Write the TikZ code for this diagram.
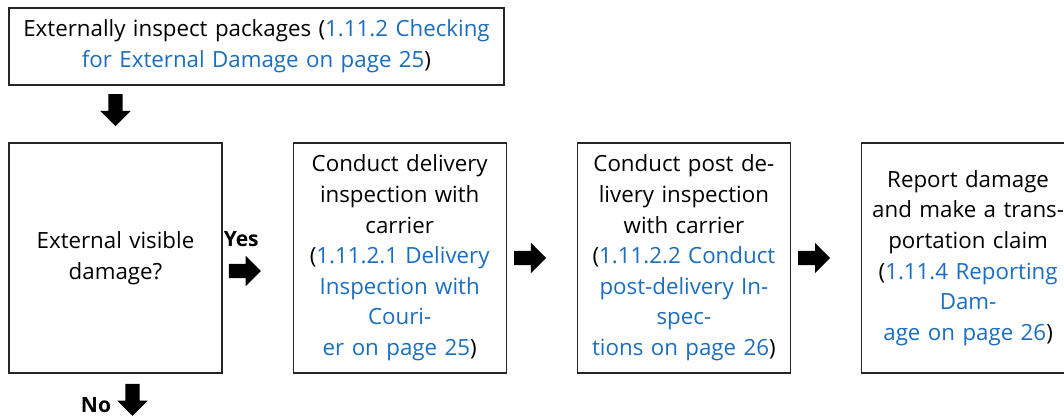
\documentclass[tikz,border=0pt]{standalone}
\usepackage{fontspec}
\setmainfont{Open Sans}
\usetikzlibrary{positioning, shapes.arrows}
\definecolor{xref}{HTML}{1A6DC0}
\newcommand{\xr}[1]{\textcolor{xref}{#1}}

\begin{document}
\begin{tikzpicture}[x=1pt, y=-1pt,
    stepbox/.style={draw=black!85, line width=1.2pt, minimum width=213pt,
        minimum height=230pt, text width=208pt, inner sep=0pt, align=center,
        font=\fontsize{22.3}{30.6}\selectfont},
    fatarrow/.style={single arrow, fill=black, draw=none, inner xsep=0pt,
        inner ysep=7pt, single arrow head extend=8pt, minimum height=32pt},
    answer/.style={font=\fontsize{21}{24}\selectfont\bfseries, inner sep=0pt}]

\useasboundingbox (0,0) rectangle (1064,416);

% steps
\node[stepbox, minimum width=495pt, minimum height=77pt, text width=485pt]
    (inspect) at (256.5,46.5)
    {Externally inspect packages (\xr{1.11.2 Checking}\\\xr{for External Damage on page 25})};
\node[stepbox] (visible) at (115.5,258) {External visible\\damage?};
\node[stepbox, right=70pt of visible] (delivery)
    {Conduct delivery\\inspection with\\carrier\\(\xr{1.11.2.1 Delivery}\\\xr{Inspection with}\\\xr{Couri-}\\\xr{er on page 25})};
\node[stepbox, right=70pt of delivery] (postdel)
    {Conduct post de-\\livery inspection\\with carrier\\(\xr{1.11.2.2 Conduct}\\\xr{post-delivery In-}\\\xr{spec-}\\\xr{tions on page 26})};
\node[stepbox, right=70pt of postdel] (report)
    {Report damage\\and make a trans-\\portation claim\\(\xr{1.11.4 Reporting}\\\xr{Dam-}\\\xr{age on page 26})};

% arrows
\node[fatarrow, rotate=-90, anchor=east] (adown) at ([yshift=16pt]visible.north) {};
\node[fatarrow, right=6pt of visible, yshift=-13pt] (ayes) {};
\node[answer, above=17pt of ayes] (yes) {Yes};
\node[fatarrow, right=7pt of delivery] (apost) {};
\node[fatarrow, right=7pt of postdel] (areport) {};
\node[fatarrow, rotate=-90, anchor=west] (ano) at ([xshift=17pt, yshift=-10pt]visible.south) {};
\node[answer] (no) at (96,405) {No};

\end{tikzpicture}
\end{document}
